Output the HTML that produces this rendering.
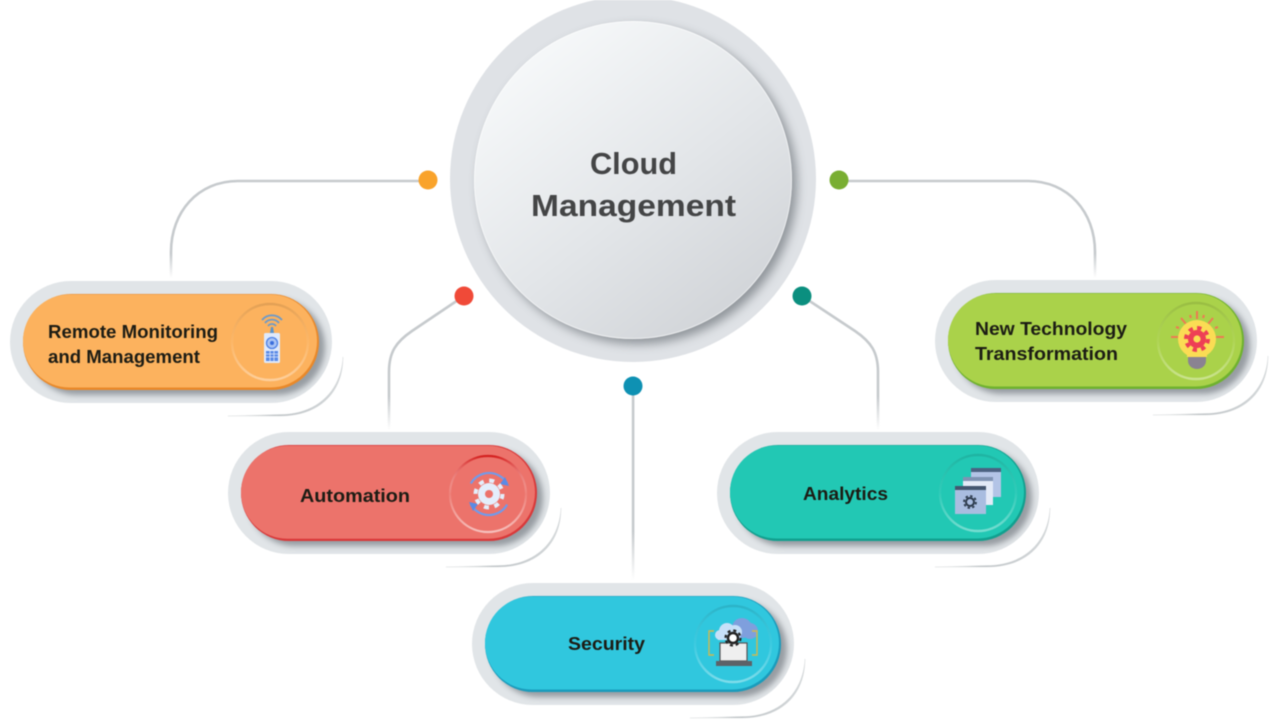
<!DOCTYPE html>
<html><head><meta charset="utf-8"><style>
html,body{margin:0;padding:0;background:#fff;width:1280px;height:720px;overflow:hidden}
svg{display:block;filter:blur(.4px)}
text{font-family:"Liberation Sans",sans-serif;font-weight:bold}
.l{font-size:18px;fill:#1c1c14}
</style></head><body>
<svg width="1280" height="720" viewBox="0 0 1280 720" xmlns="http://www.w3.org/2000/svg">
<defs>
<linearGradient id="inner" x1="0.15" y1="0.05" x2="0.85" y2="0.95"><stop offset="0" stop-color="#f8fafb"/><stop offset=".55" stop-color="#e3e6e9"/><stop offset="1" stop-color="#d0d3d7"/></linearGradient>
<linearGradient id="fadeV" x1="0" y1="0" x2="0" y2="1"><stop offset="0" stop-color="#c6cacd"/><stop offset=".75" stop-color="#c6cacd"/><stop offset="1" stop-color="#c6cacd" stop-opacity="0"/></linearGradient>
<linearGradient id="arc" x1="1" y1="0" x2="0" y2="0"><stop offset="0" stop-color="#d5d9db"/><stop offset=".6" stop-color="#bfc4c7"/><stop offset="1" stop-color="#c6cacd" stop-opacity="0"/></linearGradient>
<linearGradient id="ring" x1="0" y1="0" x2="0" y2="1"><stop offset="0" stop-color="#000" stop-opacity=".1"/><stop offset=".5" stop-color="#fff" stop-opacity=".06"/><stop offset="1" stop-color="#fff" stop-opacity=".38"/></linearGradient>
<linearGradient id="ringR" x1="0" y1="0" x2="0" y2="1"><stop offset="0" stop-color="#d01010" stop-opacity=".85"/><stop offset=".5" stop-color="#fff" stop-opacity=".1"/><stop offset="1" stop-color="#fff" stop-opacity=".55"/></linearGradient>
<filter id="sh" x="-20%" y="-30%" width="140%" height="170%"><feGaussianBlur stdDeviation="3"/></filter>
<filter id="sc" x="-20%" y="-20%" width="140%" height="140%"><feGaussianBlur stdDeviation="5"/></filter>
<clipPath id="hc"><rect x="-13" y="-13" width="322" height="122" rx="61"/></clipPath>
<g id="pillbase">
  <path d="M320,63 C320,100 295,122 257,122 L205,122 L257,120.5 C293,120.5 318,98 320,63Z" fill="url(#arc)" stroke="#c6cacd" stroke-width=".4" stroke-opacity=".6"/>
  <rect x="-13" y="-13" width="322" height="122" rx="61" fill="#e1e5e8"/>
  <g clip-path="url(#hc)"><rect x="6" y="5" width="296" height="96" rx="48" fill="#6f767d" opacity=".65" filter="url(#sh)"/></g>
</g>
</defs>

<!-- connectors -->
<g fill="none" stroke-width="2.6">
<path d="M428,181 H238 C198,181 171,212 171,252 V278" stroke="url(#fadeV)"/>
<path d="M839,181 H1028 C1068,181 1095,212 1095,252 V278" stroke="url(#fadeV)"/>
<path d="M464,296 L412,331 C396,342 389,352 389,372 V430" stroke="url(#fadeV)"/>
<path d="M802,296 L855,331 C871,342 878,352 878,372 V430" stroke="url(#fadeV)"/>
</g>
<rect x="631.8" y="386" width="2.6" height="194" fill="url(#fadeV)"/>

<!-- centre -->
<circle cx="633" cy="179" r="183" fill="#dfe2e6"/>
<circle cx="638" cy="185" r="159" fill="#6d7379" opacity=".7" filter="url(#sc)"/>
<circle cx="633" cy="180" r="159" fill="url(#inner)"/>
<circle cx="633" cy="180" r="158.5" fill="none" stroke="#fff" stroke-opacity=".5"/>
<g fill="#444546">
<text x="590" y="174" textLength="87" lengthAdjust="spacingAndGlyphs" style="font-size:31px">Cloud</text>
<text x="531" y="216" textLength="205" lengthAdjust="spacingAndGlyphs" style="font-size:31px">Management</text>
</g>

<!-- dots -->
<circle cx="428" cy="180" r="9.5" fill="#f9a32b"/>
<circle cx="839" cy="180" r="9.5" fill="#79ae32"/>
<circle cx="464" cy="296" r="9.5" fill="#f04a38"/>
<circle cx="802" cy="296" r="9.5" fill="#0b8f7f"/>
<circle cx="633" cy="386" r="9.5" fill="#0e91b3"/>

<!-- Remote -->
<g transform="translate(23,294)">
<use href="#pillbase"/>
<rect x="0" y="0" width="296" height="96" rx="48" fill="#e9892a"/>
<rect x="0" y="0.5" width="294" height="93" rx="46.5" fill="#fcb25e"/>
<circle cx="247" cy="48" r="38" fill="none" stroke="url(#ring)" stroke-width="2.4"/>
</g>
<g>
<g fill="none" stroke="#6d9ac8" stroke-width="1.8"><path d="M262,320 A13,13 0 0 1 282,320"/><path d="M265,323 A9,9 0 0 1 279,323"/><path d="M268,326 A5,5 0 0 1 276,326"/></g>
<path d="M271,327 h2 l1,6 h-4z" fill="#5b93c9"/>
<rect x="264" y="333" width="16" height="30" rx="1.5" fill="#dfe9fb"/>
<circle cx="272" cy="343" r="5.5" fill="#aac4f5" stroke="#4f82e6" stroke-width="1.3"/><circle cx="272" cy="343" r="2" fill="#3b6fdc"/>
<rect x="266" y="351" width="12" height="10" fill="#5b8be6"/>
<path d="M266,354 h12 M266,357 h12 M270,351 v10 M274,351 v10" stroke="#dfe9fb" stroke-width=".8"/>
</g>
<text class="l" x="48" y="338" textLength="170" lengthAdjust="spacingAndGlyphs">Remote Monitoring</text>
<text class="l" x="48" y="363" textLength="152" lengthAdjust="spacingAndGlyphs">and Management</text>

<!-- Automation -->
<g transform="translate(241,445)">
<use href="#pillbase"/>
<rect x="0" y="0" width="296" height="96" rx="48" fill="#d9393a"/>
<rect x="0" y="0.8" width="294" height="93" rx="46.5" fill="#ec736b"/>
<circle cx="247" cy="49" r="38" fill="none" stroke="url(#ringR)" stroke-width="2.2"/>
</g>
<g>
<circle cx="489" cy="494" r="21" fill="none" stroke="#6f9bec" stroke-width="2.2" stroke-dasharray="44 22" transform="rotate(-150 489 494)"/>
<path d="M505,477 l4,9 l-9,-2z M473,511 l-4,-9 l9,2z" fill="#5a8be6"/>
<circle cx="489" cy="494" r="11" fill="#e4eefb"/>
<circle cx="489" cy="494" r="13.5" fill="none" stroke="#e4eefb" stroke-width="4" stroke-dasharray="5 5.6"/>
<circle cx="489" cy="494" r="4" fill="#ec736b"/>
</g>
<text class="l" x="300" y="502" textLength="110" lengthAdjust="spacingAndGlyphs">Automation</text>

<!-- Analytics -->
<g transform="translate(730,445)">
<use href="#pillbase"/>
<rect x="0" y="0" width="296" height="96" rx="48" fill="#11a08f"/>
<rect x="0" y="0.5" width="294" height="93" rx="46.5" fill="#22c8b4"/>
<circle cx="248" cy="48" r="38" fill="none" stroke="url(#ring)" stroke-width="2.4"/>
</g>
<g>
<rect x="971" y="468" width="30" height="29" fill="#b3c4e6"/><rect x="971" y="468" width="30" height="4" fill="#4b6282"/>
<rect x="963" y="477" width="30" height="28" fill="#e3eaf7"/><rect x="963" y="477" width="30" height="4" fill="#7f93b3"/>
<rect x="955" y="486" width="31" height="28" fill="#a9bde0"/><rect x="955" y="486" width="31" height="4" fill="#44566f"/>
<circle cx="970" cy="502" r="4" fill="none" stroke="#2c3a4c" stroke-width="2"/>
<circle cx="970" cy="502" r="6" fill="none" stroke="#2c3a4c" stroke-width="1.8" stroke-dasharray="2.4 2.3"/>
</g>
<text class="l" x="803" y="500" textLength="85" lengthAdjust="spacingAndGlyphs">Analytics</text>

<!-- Security -->
<g transform="translate(485,596)">
<use href="#pillbase"/>
<rect x="0" y="0" width="296" height="96" rx="48" fill="#1a9cbc"/>
<rect x="0" y="0.5" width="294" height="93" rx="46.5" fill="#30c7de"/>
<circle cx="248" cy="48" r="38" fill="none" stroke="url(#ring)" stroke-width="2.4"/>
</g>
<g>
<g fill="#7f9fdd"><circle cx="742" cy="628" r="10"/><circle cx="750" cy="631" r="8"/><rect x="734" y="628" width="22" height="9"/></g>
<g fill="#c7e0f8"><circle cx="727" cy="631" r="8"/><circle cx="735" cy="632" r="7"/><circle cx="720" cy="635" r="5"/><rect x="718" y="632" width="22" height="8"/></g>
<path d="M714,631 h-5 v24 h5 M752,631 h5 v24 h-5" fill="none" stroke="#d0b94e" stroke-width="1.4"/>
<rect x="720" y="643" width="27" height="18" fill="#efefef" stroke="#555" stroke-width="1.2"/>
<rect x="716" y="661" width="36" height="5" fill="#5d6268"/>
<circle cx="733" cy="638" r="5" fill="#fff" stroke="#222" stroke-width="2.4"/>
<circle cx="733" cy="638" r="7.5" fill="none" stroke="#222" stroke-width="2.2" stroke-dasharray="3 2.9"/>
</g>
<text class="l" x="568" y="650" textLength="77" lengthAdjust="spacingAndGlyphs">Security</text>

<!-- New Technology -->
<g transform="translate(948,293)">
<use href="#pillbase"/>
<rect x="0" y="0" width="296" height="96" rx="48" fill="#6fb22e"/>
<rect x="0" y="0.5" width="294" height="93" rx="46.5" fill="#aad24a"/>
<circle cx="248" cy="48" r="38" fill="none" stroke="url(#ring)" stroke-width="2.4"/>
</g>
<g>
<path d="M1197,311 v8 M1181,318 l5,6 M1213,318 l-5,6 M1190,315 l1,3 M1204,315 l-1,3 M1171,337 h7 M1216,337 h8 M1176,327 l3,1 M1218,327 l-3,1" stroke="#ef7a52" stroke-width="2"/>
<circle cx="1197" cy="339" r="19" fill="#fbdc54"/>
<rect x="1187" y="352" width="20" height="5" fill="#fbdc54"/>
<path d="M1188,357 h18 v4 a9,8 0 0 1 -18,0z" fill="#8a8391"/>
<circle cx="1197" cy="339" r="9" fill="#ee3f55"/>
<circle cx="1197" cy="339" r="11" fill="none" stroke="#ee3f55" stroke-width="4" stroke-dasharray="4.3 4.3"/>
<circle cx="1197" cy="339" r="3.6" fill="#fbdc54"/>
</g>
<text class="l" x="975" y="335" textLength="152" lengthAdjust="spacingAndGlyphs">New Technology</text>
<text class="l" x="975" y="360" textLength="143" lengthAdjust="spacingAndGlyphs">Transformation</text>
</svg>
</body></html>
